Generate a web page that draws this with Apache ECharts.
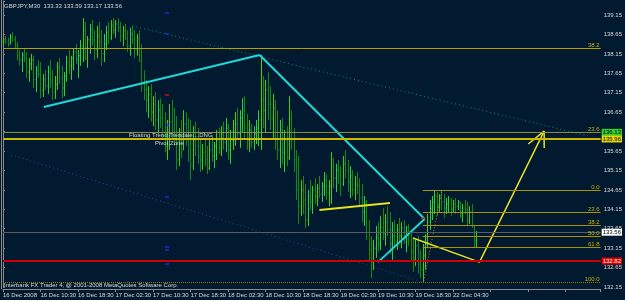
<!DOCTYPE html>
<html>
<head>
<meta charset="utf-8">
<script src="https://cdn.jsdelivr.net/npm/echarts@6/dist/echarts.min.js"></script>
<style>
  html, body { margin: 0; padding: 0; background: #011a2f; }
  #chart { width: 625px; height: 300px; }
</style>
</head>
<body>
<div id="chart"></div>
<script>
  // M30 bars, index 0 = 16 Dec 02:30 (one value per bar)
  var barHigh = [
    138.56,138.61,138.56,138.66,138.71,138.61,138.46,138.25,138.20,138.30,138.20,138.04,138.15,138.10,137.84,137.99,137.94,137.63,137.73,137.84,
    137.99,137.73,137.58,137.94,138.04,137.84,137.68,138.10,138.25,138.10,138.30,138.40,138.25,138.51,139.07,138.97,138.61,138.92,139.02,138.76,
    138.87,138.97,138.76,138.66,138.87,138.97,139.02,139.07,139.02,139.07,138.97,138.87,138.92,138.76,138.82,138.87,138.76,138.66,138.76,138.40,
    137.73,137.48,137.32,137.37,137.06,137.17,136.96,137.01,136.86,136.65,136.45,136.86,136.96,136.76,136.55,136.24,136.45,136.70,136.65,136.50,
    136.45,136.29,136.40,136.24,135.98,135.83,135.98,135.78,135.93,136.04,135.88,136.19,136.24,136.29,136.40,136.50,136.35,136.19,136.45,136.65,
    136.76,136.70,137.01,137.06,136.60,136.45,136.35,136.29,136.45,136.70,138.12,137.58,137.48,137.68,137.32,137.12,136.96,136.70,136.45,136.50,
    136.19,136.29,137.06,136.70,136.24,135.68,135.52,134.90,135.01,134.80,134.65,134.90,134.75,134.95,134.80,135.01,134.85,135.11,135.06,134.90,
    135.62,135.47,135.32,135.42,135.26,135.52,135.68,135.42,135.26,135.16,135.01,135.11,134.95,134.80,134.49,134.39,133.87,133.46,133.36,133.72,
    133.82,133.98,134.18,134.03,134.23,134.08,133.82,133.87,133.77,133.93,133.82,133.87,133.72,133.77,133.62,133.41,133.36,133.46,133.10,133.26,
    133.51,134.03,134.39,134.49,134.65,134.59,134.54,134.65,134.54,134.44,134.49,134.44,134.39,134.44,134.39,134.34,134.29,134.39,134.34,134.23,
    134.29,133.72,133.59
  ];
  var barLow = [
    138.35,138.40,138.33,138.40,138.46,138.30,137.99,137.84,137.68,137.94,137.53,137.43,137.73,137.27,137.17,137.53,137.01,137.04,137.22,137.12,
    137.27,136.96,136.99,137.22,137.37,137.01,137.06,137.43,137.63,137.48,137.73,137.89,137.53,137.84,137.94,137.99,137.79,138.15,138.35,137.99,
    138.04,138.30,137.84,137.94,138.25,138.40,138.51,138.66,138.56,138.71,138.46,138.35,138.51,138.20,138.10,138.40,138.04,138.10,137.94,137.17,
    136.96,136.65,136.50,136.40,136.29,136.19,136.09,136.24,135.93,135.62,135.42,135.68,135.98,135.78,135.16,135.26,135.47,135.68,135.78,135.37,
    134.90,135.16,135.52,135.32,135.11,135.16,135.26,135.06,135.16,135.37,135.21,135.42,135.57,135.52,135.68,135.62,135.42,135.32,135.68,135.78,
    135.93,135.73,136.14,135.98,135.68,135.62,135.73,135.68,135.83,135.78,135.68,136.24,136.14,136.45,136.19,135.98,135.68,135.42,135.21,135.32,
    135.11,135.26,135.42,135.68,135.11,134.39,133.77,133.98,134.03,133.67,133.72,134.13,134.03,134.29,134.23,134.44,134.34,134.49,134.39,134.23,
    134.29,134.69,134.59,134.80,134.49,134.75,134.95,134.59,134.44,134.49,134.39,134.54,134.23,133.82,133.72,133.36,132.79,132.38,132.59,132.90,
    133.05,133.10,133.36,133.21,133.46,133.00,132.85,133.15,133.10,133.31,133.15,133.26,133.05,133.21,132.79,132.54,132.69,132.49,132.38,132.28,
    132.59,133.15,133.62,133.87,134.03,133.98,134.08,134.13,133.93,134.03,134.08,133.98,134.08,134.03,134.13,133.93,133.82,134.03,133.72,133.77,
    133.67,133.15,133.17
  ];
  var barOpen = [
    138.46,138.51,138.46,138.40,138.58,138.51,138.35,138.10,137.99,138.12,138.04,137.68,137.89,137.99,137.48,137.73,137.63,137.22,137.48,137.32,
    137.68,137.43,137.17,137.37,137.79,137.53,137.27,137.58,137.94,137.84,138.04,138.20,137.99,138.10,138.35,138.76,138.30,138.51,138.76,138.51,
    138.25,138.61,138.46,138.15,138.40,138.71,138.56,138.87,138.76,138.92,138.82,138.61,138.76,138.56,138.35,138.66,138.51,138.25,138.56,138.10,
    137.37,137.22,136.96,137.12,136.65,136.86,136.45,136.70,136.50,136.14,135.78,136.04,136.40,136.19,135.93,135.42,135.93,135.68,136.35,136.04,
    135.62,135.26,135.93,135.78,135.52,135.42,135.62,135.42,135.21,135.68,135.52,135.78,135.93,135.73,136.09,135.88,136.24,135.68,135.93,136.14,
    136.35,136.09,136.50,136.70,136.24,135.93,136.19,135.88,136.09,136.24,136.45,136.96,136.70,137.22,136.86,136.50,136.76,135.98,135.68,136.19,
    135.62,135.93,135.47,136.45,135.93,135.42,134.65,134.23,134.65,134.39,133.87,134.49,134.34,134.65,134.49,134.69,134.54,134.75,134.90,134.59,
    134.75,135.26,134.95,135.16,135.01,134.80,135.32,135.16,134.85,135.01,134.65,134.80,134.75,134.44,134.08,134.29,133.56,133.10,132.79,133.15,
    133.41,133.26,133.67,133.51,133.82,133.62,133.26,133.46,133.31,133.62,133.46,133.67,133.41,133.56,133.36,133.05,132.85,133.21,132.74,132.59,
    132.95,133.26,133.82,134.18,134.34,134.49,134.23,134.44,134.34,134.18,134.29,134.39,134.13,134.29,134.23,134.34,134.03,134.18,134.13,133.87,
    134.08,133.72,133.33
  ];
  var barClose = [
    138.51,138.46,138.38,138.58,138.51,138.35,138.10,137.99,138.12,138.04,137.68,137.89,137.99,137.48,137.73,137.63,137.22,137.48,137.32,137.68,
    137.43,137.17,137.37,137.79,137.53,137.27,137.58,137.94,137.84,138.04,138.20,137.99,138.10,138.35,138.76,138.30,138.51,138.76,138.51,138.25,
    138.61,138.46,138.15,138.40,138.71,138.56,138.87,138.76,138.92,138.82,138.61,138.76,138.56,138.35,138.66,138.51,138.25,138.56,138.10,137.37,
    137.22,136.96,137.12,136.65,136.86,136.45,136.70,136.50,136.14,135.78,136.04,136.40,136.19,135.93,135.42,135.93,135.68,136.35,136.04,135.62,
    135.26,135.93,135.78,135.52,135.42,135.62,135.42,135.21,135.68,135.52,135.78,135.93,135.73,136.09,135.88,136.24,135.68,135.93,136.14,136.35,
    136.09,136.50,136.70,136.24,135.93,136.19,135.88,136.09,136.24,136.45,136.96,136.70,137.22,136.86,136.50,136.76,135.98,135.68,136.19,135.62,
    135.93,135.47,136.45,135.93,135.42,134.65,134.23,134.65,134.39,133.87,134.49,134.34,134.65,134.49,134.69,134.54,134.75,134.90,134.59,134.75,
    135.26,134.95,135.16,135.01,134.80,135.32,135.16,134.85,135.01,134.65,134.80,134.75,134.44,134.08,134.29,133.56,133.10,132.79,133.15,133.41,
    133.26,133.67,133.51,133.82,133.62,133.26,133.46,133.31,133.62,133.46,133.67,133.41,133.56,133.36,133.05,132.85,133.21,132.74,132.59,132.95,
    133.26,133.82,134.18,134.34,134.49,134.23,134.44,134.34,134.18,134.29,134.39,134.13,134.29,134.23,134.34,134.03,134.18,134.13,133.87,134.08,
    133.72,133.36,133.56
  ];

  var timeLabels = ['16 Dec 2008','16 Dec 10:30','16 Dec 18:30','17 Dec 02:30','17 Dec 10:30','17 Dec 18:30','18 Dec 02:30','18 Dec 10:30','18 Dec 18:30','19 Dec 02:30','19 Dec 10:30','19 Dec 18:30','22 Dec 04:30'];

  // horizontal levels: price, start bar, fib text, price box
  var levelPrice = [138.30, 136.13, 135.96, 134.64, 134.08, 133.74, 133.46, 133.18, 132.28, 133.56, 132.82];
  var levelStart = [0, 0, 0, 179.1, 179.1, 179.1, 179.1, 179.1, 0, 0, 0];
  var levelText  = ['38.2', '23.6', '', '0.0', '23.6', '38.2', '50.0', '61.8', '100.0', '', ''];
  var levelBox   = ['', '136.13', '135.96', '', '', '', '', '', '', '133.56', '132.82'];

  // trend lines as [bar, price] points
  var cyanUp    = [[17.4, 136.78], [109.5, 138.12]];
  var cyanDown  = [[109.5, 138.12], [179.9, 133.90]];
  var cyanBack  = [[160.0, 132.79], [179.9, 133.90]];
  var redTick   = [[178.3, 133.92], [179.9, 133.92]];
  var yellowOne = [[135.0, 134.13], [165.1, 134.31]];
  var yellowZig = [[174.9, 133.41], [203.3, 132.79], [230.9, 136.16]];
  var arrowHead = [[224.1, 135.83], [230.9, 136.16], [230.9, 135.73]];
  var tealDots  = [[55.2, 138.87], [249.5, 136.04]];
  var blueDots  = [[3.4, 135.55], [178.7, 132.28]];
  var fibDots   = [[179.5, 132.30], [187.2, 134.62]];

  // pivot marks drawn at one bar
  var pivotBar  = 70;
  var pivotBlue = [139.20, 138.66, 136.32, 134.47, 133.18, 133.10, 132.74];
  var pivotRed  = [137.09];

  var FONT = 'Liberation Sans, Arial, sans-serif';
  var upColor = '#2cd42c';
  var downColor = '#128a12';

  var bars = barHigh.map(function (h, i) {
    return [i, barOpen[i], h, barLow[i], barClose[i]];
  });

  function renderBar(params, api) {
    var u = api.value(0);
    var o = api.coord([u, api.value(1)]);
    var h = api.coord([u, api.value(2)]);
    var l = api.coord([u, api.value(3)]);
    var c = api.coord([u, api.value(4)]);
    var x = Math.round(o[0]) + 0.5;
    var col = api.value(4) >= api.value(1) ? upColor : downColor;
    var st = { stroke: col, lineWidth: 1 };
    return {
      type: 'group',
      children: [
        { type: 'line', shape: { x1: x, y1: h[1], x2: x, y2: l[1] }, style: st },
        { type: 'line', shape: { x1: x - 1, y1: o[1], x2: x, y2: o[1] }, style: st },
        { type: 'line', shape: { x1: x, y1: c[1], x2: x + 1, y2: c[1] }, style: st }
      ]
    };
  }

  var levelColor = ['#b8a000', '#8c8c3c', '#d0b800', '#a89400', '#a89400', '#a89400', '#a89400', '#a89400', '#8a7a00', '#5c5c5c', '#d00000'];
  var levelWidth = [1, 1, 2, 1, 1, 1, 1, 1, 1, 1, 2];
  var boxBg   = { '136.13': '#30d030', '135.96': '#e8d800', '133.56': '#ffffff', '132.82': '#e00000' };
  var boxText = { '136.13': '#000000', '135.96': '#000000', '133.56': '#000000', '132.82': '#ffffff' };

  var levelLines = [];
  var levelBoxes = [];
  levelPrice.forEach(function (p, i) {
    levelLines.push([
      {
        coord: [levelStart[i], p],
        lineStyle: { color: levelColor[i], width: levelWidth[i], type: i === 8 ? 'dotted' : 'solid' },
        label: {
          show: levelText[i] !== '',
          formatter: levelText[i],
          position: 'insideEndTop',
          distance: [1, 0],
          color: '#c8b000',
          fontSize: 6,
          fontFamily: FONT
        }
      },
      { coord: [255, p] }
    ]);
    if (levelBox[i]) {
      levelBoxes.push([
        {
          coord: [250, p],
          lineStyle: { color: 'rgba(0,0,0,0)', width: 1 },
          label: {
            show: true,
            formatter: levelBox[i],
            position: 'end',
            distance: 1,
            backgroundColor: boxBg[levelBox[i]],
            color: boxText[levelBox[i]],
            padding: [1, 1, 0, 1],
            fontSize: 6,
            fontFamily: FONT
          }
        },
        { coord: [255, p] }
      ]);
    }
  });

  function trend(data, color, width, type) {
    return {
      type: 'line', data: data, symbol: 'none', silent: true, z: 4,
      lineStyle: { color: color, width: width, type: type || 'solid' }
    };
  }

  function marks(prices, color) {
    return {
      type: 'scatter', silent: true, z: 4, symbol: 'rect', symbolSize: [4, 2],
      itemStyle: { color: color },
      data: prices.map(function (p) { return [pivotBar, p]; })
    };
  }

  var chart = echarts.init(document.getElementById('chart'));
  chart.setOption({
    backgroundColor: '#011a2f',
    animation: false,
    grid: { left: 2, right: 22, top: 1, bottom: 13 },
    xAxis: {
      type: 'value', min: 0, max: 255, interval: 16, offset: 2,
      axisLine: { show: true, lineStyle: { color: '#8a8a8a' } },
      axisTick: { show: true, length: 3, lineStyle: { color: '#8a8a8a' } },
      splitLine: { show: false },
      axisLabel: {
        color: '#d8d8d8', fontSize: 6, fontFamily: FONT, align: 'left', margin: 3,
        formatter: function (v) { return v % 16 === 0 ? (timeLabels[v / 16] || '') : ''; }
      }
    },
    yAxis: {
      type: 'value', position: 'right', min: 132.15, max: 139.51, interval: 0.5, scale: true,
      axisLine: { show: true, lineStyle: { color: '#8a8a8a' } },
      axisTick: { show: true, length: 2, lineStyle: { color: '#8a8a8a' } },
      splitLine: { show: false },
      axisLabel: {
        color: '#d8d8d8', fontSize: 6, fontFamily: FONT, margin: 3,
        formatter: function (v) {
          var k = (v - 132.15) / 0.5;
          return Math.abs(k - Math.round(k)) < 0.01 ? v.toFixed(2) : '';
        }
      }
    },
    graphic: [
      { type: 'line', shape: { x1: 1.5, y1: 0, x2: 1.5, y2: 289 }, style: { stroke: '#8a8a8a', lineWidth: 1 } },
      { type: 'text', left: 4, top: 3, style: { text: 'GBPJPY,M30  133.33 133.59 133.17 133.56', fill: '#d8d8d8', font: '6px ' + FONT } },
      { type: 'text', left: 4, top: 282, style: { text: 'Interbank FX Trader 4, @ 2001-2008 MetaQuotes Software Corp.', fill: '#d8d8d8', font: '6px ' + FONT } },
      { type: 'text', left: 129, top: 132, z: 10, style: { text: 'Floating Trend Trendale....DNG', fill: '#d8d8d8', font: '6px ' + FONT } },
      { type: 'text', left: 155, top: 140, z: 10, style: { text: 'Pivot Zone', fill: '#d8d8d8', font: '6px ' + FONT } }
    ],
    series: [
      {
        type: 'line', data: [[0, 132.15]], symbol: 'none', silent: true, z: 1,
        markLine: { silent: true, symbol: ['none', 'none'], animation: false, data: levelLines }
      },
      trend(blueDots, '#1c4c9c', 1, [1, 3]),
      trend(tealDots, '#0e8c8c', 1, [1, 3]),
      {
        type: 'custom', renderItem: renderBar, data: bars, z: 3, silent: true,
        encode: { x: 0, y: [1, 2, 3, 4] }
      },
      marks(pivotBlue, '#1a2ad0'),
      marks(pivotRed, '#c01010'),
      trend(cyanUp, '#20d8d8', 2),
      trend(cyanDown, '#20d8d8', 2),
      trend(cyanBack, '#20d8d8', 2),
      trend(redTick, '#e01010', 1.5),
      trend(yellowOne, '#e8e020', 2),
      trend(yellowZig, '#e8e020', 1.5),
      trend(arrowHead, '#e8e020', 1.5),
      trend(fibDots, '#b89000', 1, [1, 2]),
      {
        type: 'line', data: [[0, 132.15]], symbol: 'none', silent: true, z: 6,
        markLine: { silent: true, symbol: ['none', 'none'], animation: false, data: levelBoxes }
      }
    ]
  });
</script>
</body>
</html>
